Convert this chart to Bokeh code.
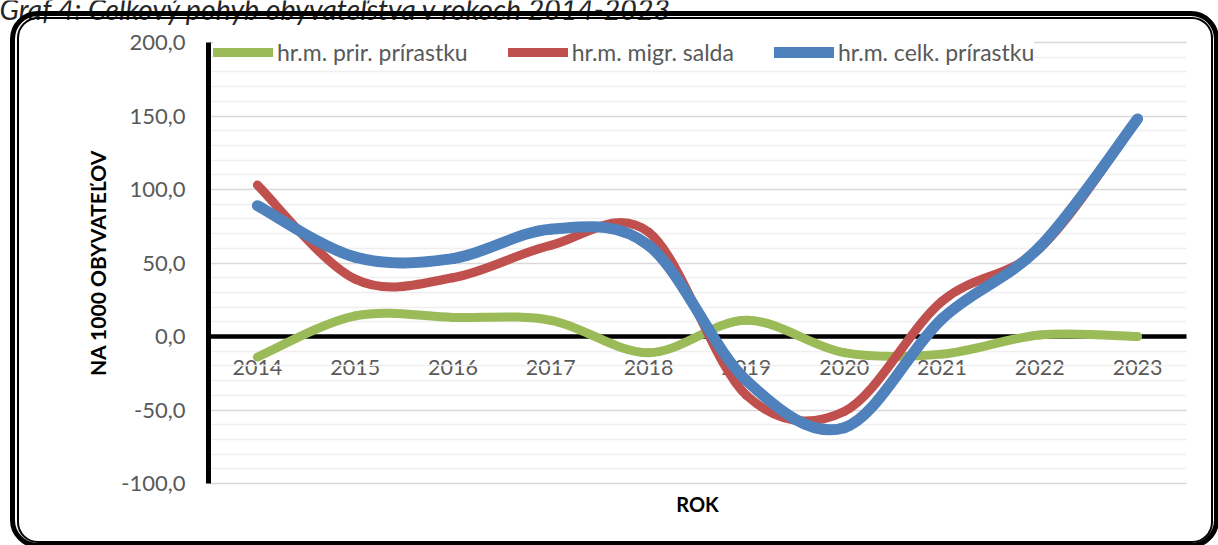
from bokeh.plotting import figure
from bokeh.models import (Range1d, FixedTicker, LinearAxis, Label, Legend, LegendItem,
                          Grid, InlineStyleSheet)
from bokeh.embed import file_html
from bokeh.resources import INLINE

# ---------------- data ----------------
years = ["2014", "2015", "2016", "2017", "2018", "2019", "2020", "2021", "2022", "2023"]
natural = [-14, 14, 13, 11, -11, 11, -11, -12, 1, 0]          # hr.m. prir. prírastku
migration = [103, 39, 40, 62, 71, -40, -51, 24, 60, 148]      # hr.m. migr. salda
total = [89, 54, 53, 73, 62, -30, -62, 12, 61, 148]           # hr.m. celk. prírastku
series_labels = ["hr.m. prir. prírastku", "hr.m. migr. salda", "hr.m. celk. prírastku"]
y_ticks = [-100, -50, 0, 50, 100, 150, 200]
y_minor = list(range(-100, 201, 10))
title_text = "Graf 4: Celkový pohyb obyvateľstva v rokoch 2014-2023"

FONT = "Lato"
W, H = 1218, 545
PL, PR, PT, PB = 208, 1186, 42, 483   # plot-area edges in canvas pixels

n = len(years)
xs = [i + 0.5 for i in range(n)]
y_lo, y_hi = y_ticks[0], y_ticks[-1]

# the frame covers the whole canvas; ranges chosen so that the plot area sits at PL..PR, PT..PB
kx = (PR - PL) / n
ky = (PB - PT) / (y_hi - y_lo)
x_range = Range1d(-PL / kx, n + (W - PR) / kx)
y_range = Range1d(y_lo - (H - PB) / ky, y_hi + PT / ky)

# rounded double border of the chart area (drawn over the canvas by CSS)
frame_css = InlineStyleSheet(css="""
:host { overflow: hidden; }
:host::before, :host::after {
  content: ""; position: absolute; box-sizing: border-box; pointer-events: none;
  z-index: 10; border-style: solid; border-color: black;
}
:host::after  { left: 10px; top: 11px; width: 1209px; height: 537px;
                border-width: 5px; border-radius: 28px; }
:host::before { left: 17px; top: 17px; width: 1196px; height: 526px;
                border-width: 2px; border-radius: 21px; }
""")

p = figure(width=W, height=H, x_range=x_range, y_range=y_range,
           output_backend="svg", toolbar_location=None,
           min_border_left=0, min_border_right=0, min_border_top=0, min_border_bottom=0,
           stylesheets=[frame_css])
p.outline_line_color = None
p.background_fill_color = "white"
p.border_fill_color = "white"

# y axis at the left edge of the plot area
p.yaxis.fixed_location = 0
p.yaxis.bounds = (y_lo, y_hi)
p.yaxis.ticker = FixedTicker(ticks=y_ticks, minor_ticks=y_minor)
p.yaxis.major_label_overrides = {v: f"{v:.1f}".replace(".", ",") for v in y_ticks}
p.yaxis.axis_line_color = "black"
p.yaxis.axis_line_width = 5
p.yaxis.major_tick_line_color = None
p.yaxis.minor_tick_line_color = None
p.yaxis.major_label_standoff = 17
p.yaxis.major_label_text_font = FONT
p.yaxis.major_label_text_font_size = "22px"
p.yaxis.major_label_text_color = "#595959"
p.yaxis.axis_label = "NA 1000 OBYVATEĽOV"
p.yaxis.axis_label_text_font = FONT
p.yaxis.axis_label_text_font_size = "21px"
p.yaxis.axis_label_text_font_style = "bold"
p.yaxis.axis_label_text_color = "black"
p.yaxis.axis_label_standoff = 8

# x axis on the zero line (its line is the thick zero line), below the data lines
p.xaxis.fixed_location = 0
p.xaxis.bounds = (0, n)
p.xaxis.level = "underlay"
p.xaxis.ticker = FixedTicker(ticks=xs)
p.xaxis.major_label_overrides = {x: y for x, y in zip(xs, years)}
p.xaxis.axis_line_color = "black"
p.xaxis.axis_line_width = 4.5
p.xaxis.major_tick_line_color = None
p.xaxis.minor_tick_line_color = None
p.xaxis.major_label_standoff = 17
p.xaxis.major_label_text_font = FONT
p.xaxis.major_label_text_font_size = "21.5px"
p.xaxis.major_label_text_color = "#595959"

rok = LinearAxis(fixed_location=y_lo, bounds=(0, n), ticker=FixedTicker(ticks=[]),
                 axis_label="ROK", axis_line_color=None, major_tick_line_color=None,
                 minor_tick_line_color=None, major_label_standoff=0,
                 axis_label_standoff=8, axis_label_text_font=FONT,
                 axis_label_text_font_size="20px", axis_label_text_font_style="bold",
                 axis_label_text_color="black")
p.add_layout(rok, "below")

# grid
p.xgrid.visible = False
grid_major = [t for t in y_ticks if t != 0]
grid_minor = [t for t in y_minor if t not in y_ticks]
if "cross_bounds" in Grid.properties():
    p.ygrid.ticker = FixedTicker(ticks=grid_major, minor_ticks=grid_minor)
    p.ygrid.cross_bounds = (0, n)
    p.ygrid.grid_line_color = "#D9D9D9"
    p.ygrid.grid_line_width = 1.5
    p.ygrid.minor_grid_line_color = "#EFEFEF"
    p.ygrid.minor_grid_line_width = 1.5
else:
    p.ygrid.visible = False
    p.segment(x0=0, x1=n, y0=grid_minor, y1=grid_minor, line_color="#EFEFEF",
              line_width=1.5, level="underlay")
    p.segment(x0=0, x1=n, y0=grid_major, y1=grid_major, line_color="#D9D9D9",
              line_width=1.5, level="underlay")

# smoothed series drawn as bezier segments through the data points
def segments(ys):
    d = dict(x0=[], y0=[], x1=[], y1=[], cx0=[], cy0=[], cx1=[], cy1=[])
    for i in range(n - 1):
        ip, inn = max(i - 1, 0), min(i + 2, n - 1)
        d["x0"].append(xs[i]); d["y0"].append(ys[i])
        d["x1"].append(xs[i + 1]); d["y1"].append(ys[i + 1])
        d["cx0"].append(xs[i] + (xs[i + 1] - xs[ip]) / 6)
        d["cy0"].append(ys[i] + (ys[i + 1] - ys[ip]) / 6)
        d["cx1"].append(xs[i + 1] - (xs[inn] - xs[i]) / 6)
        d["cy1"].append(ys[i + 1] - (ys[inn] - ys[i]) / 6)
    return d

colors = ["#9BBB59", "#C0504D", "#4F81BD"]
widths = [9, 9, 11]
items = []
for ys, col, w, lab in zip([natural, migration, total], colors, widths, series_labels):
    p.bezier(source=segments(ys), x0="x0", y0="y0", x1="x1", y1="y1",
             cx0="cx0", cy0="cy0", cx1="cx1", cy1="cy1",
             line_color=col, line_width=w, line_cap="round")
    r = p.line(x=[float("nan")], y=[float("nan")], line_color=col, line_width=w,
               line_cap="round")
    items.append(LegendItem(label=lab, renderers=[r]))

legend = Legend(items=items, orientation="horizontal", location=(PL + 5, H - 66),
                padding=0, margin=0, spacing=40, glyph_width=60, glyph_height=18,
                label_height=18, label_standoff=4, label_text_font=FONT,
                label_text_font_size="23px", label_text_color="#595959",
                label_text_line_height=1.0,
                background_fill_color="white", background_fill_alpha=1,
                border_line_color=None)
p.add_layout(legend)

# title, mostly cut off at the top of the page (as in the reference)
p.add_layout(Label(x=-1, y=8, x_units="canvas", y_units="canvas", text=title_text,
                   text_font=FONT, text_font_style="italic", text_font_size="28.5px",
                   text_color="#262626", text_baseline="alphabetic", text_align="left"))

open("out.html", "w").write(file_html(p, INLINE))
